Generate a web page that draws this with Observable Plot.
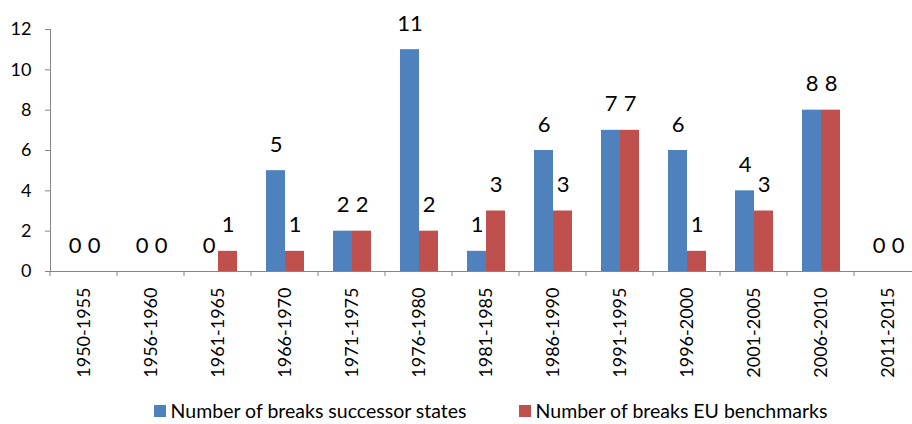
<!DOCTYPE html>
<html><head><meta charset="utf-8">
<script src="https://cdn.jsdelivr.net/npm/d3@7"></script>
<script src="https://cdn.jsdelivr.net/npm/@observablehq/plot@0.6"></script>
<style>
html,body{margin:0;padding:0;background:#fff;overflow:hidden;}
#chart svg{display:block;}
#legend{display:flex;justify-content:center;align-items:center;padding-left:69px;gap:52px;font-family:Lato,sans-serif;font-size:19.5px;line-height:18px;color:#000;height:18px;margin-top:14px;}
.item{display:flex;align-items:center;white-space:nowrap;}
.sw{width:12px;height:12px;margin-right:5px;display:inline-block;}
</style></head>
<body><div id="chart"></div><div id="legend"></div>
<script>
const categories = ["1950-1955","1956-1960","1961-1965","1966-1970","1971-1975","1976-1980","1981-1985","1986-1990","1991-1995","1996-2000","2001-2005","2006-2010","2011-2015"];
const successorStates = [0,0,0,5,2,11,1,6,7,6,4,8,0];
const euBenchmarks = [0,0,1,1,2,2,3,3,7,1,3,8,0];
const seriesNames = ["Number of breaks successor states","Number of breaks EU benchmarks"];
const seriesColors = ["#4F81BD","#C0504D"];
const yTicks = [0,2,4,6,8,10,12];

const data = categories.flatMap((c, i) => [
  {category: c, series: seriesNames[0], value: successorStates[i]},
  {category: c, series: seriesNames[1], value: euBenchmarks[i]}
]);

const axisGray = "#868686";

const plot = Plot.plot({
  width: 912,
  height: 388,
  marginLeft: 49,
  marginRight: -9,
  marginTop: 29,
  marginBottom: 117,
  style: {fontFamily: "Lato, sans-serif", background: "white", color: "black", overflow: "visible"},
  fx: {domain: categories, padding: 0, axis: null},
  x: {domain: seriesNames, paddingInner: 0, paddingOuter: 0.74, axis: null},
  y: {domain: [0, 12], axis: null},
  color: {domain: seriesNames, range: seriesColors},
  marks: [
    Plot.barY(data, {fx: "category", x: "series", y: "value", fill: "series"}),
    Plot.text(data, {fx: "category", x: "series", y: "value", text: d => String(d.value), dy: -19, lineAnchor: "bottom", fontSize: 22, fill: "black"}),
    Plot.axisY({ticks: yTicks, tickSize: 5, tickPadding: 14, stroke: axisGray, fontSize: 18, label: null}),
    Plot.axisFx({anchor: "bottom", tickSize: 0, tickPadding: 16, tickRotate: -90, fontSize: 18, label: null}),
    Plot.ruleY([0], {stroke: axisGray}),
    Plot.frame({anchor: "left", facet: "super", stroke: axisGray})
  ]
});

document.getElementById("chart").append(plot);

// category boundary tick marks below the x axis, positioned with the plot's own scales
const fx = plot.scale("fx");
const ys = plot.scale("y");
const y0 = ys.apply(0);
const bounds = categories.map(c => fx.apply(c)).concat([fx.apply(categories[categories.length - 1]) + fx.step]);
d3.select(plot).append("g")
  .attr("stroke", axisGray)
  .selectAll("line").data(bounds).join("line")
  .attr("x1", d => d).attr("x2", d => d)
  .attr("y1", y0).attr("y2", y0 + 5);

// legend
const legend = d3.select("#legend");
seriesNames.forEach((s, i) => {
  const it = legend.append("div").attr("class", "item");
  it.append("span").attr("class", "sw").style("background", seriesColors[i]);
  it.append("span").text(s);
});
</script>
</body></html>
